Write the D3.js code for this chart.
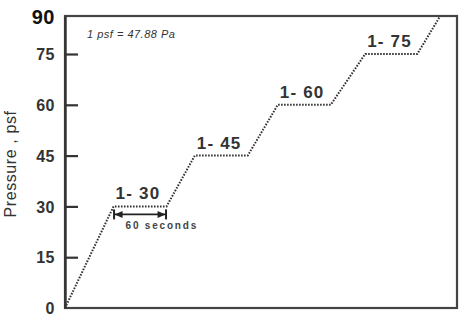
<!DOCTYPE html>
<html>
<head>
<meta charset="utf-8">
<script src="https://cdn.jsdelivr.net/npm/d3@7"></script>
<style>
  body { margin: 0; background: #fff; }
  svg { display: block; font-family: "Liberation Sans", Arial, sans-serif; }
</style>
</head>
<body>
<svg width="463" height="323"></svg>
<script>
let svg = d3.select("svg");

// time in seconds, pressure in psf
let times = [0, 55, 115, 147, 207, 241, 301, 340, 399, 425];
let pressures = [0, 30, 30, 45, 45, 60, 60, 75, 75, 90];
let stepLabels = ["1- 30", "1- 45", "1- 60", "1- 75"];
let stepStarts = [55, 147, 241, 340];
let stepLevels = [30, 45, 60, 75];
let yTicks = [0, 15, 30, 45, 60, 75, 90];

let plotLeft = 65, plotRight = 457, plotTop = 16, plotBottom = 308;
let darkColor = "#333";

let x = d3.scaleLinear().domain([0, 444]).range([plotLeft, plotRight]);
// the top of the frame is squeezed, 90 sits on the border
let y = d3.scaleLinear().domain([0, 75, 90]).range([plotBottom, 54, plotTop]);

//Arrow markers for the 60 seconds span
let defs = svg.append("defs");
["arrowEnd", "arrowStart"].forEach((id, i) => {
    let m = defs.append("marker")
        .attr("id", id)
        .attr("viewBox", "0 -6 12 12")
        .attr("refX", 11)
        .attr("refY", 0)
        .attr("markerWidth", 12)
        .attr("markerHeight", 12)
        .attr("markerUnits", "userSpaceOnUse")
        .attr("orient", i == 0 ? "auto" : "auto-start-reverse");
    m.append("path").attr("d", "M2,-3.5L10,0L2,3.5Z").attr("fill", "#222");
    m.append("rect").attr("x", 9.5).attr("y", -5).attr("width", 2).attr("height", 10).attr("fill", "#222");
});

// frame
svg.append("rect")
    .attr("x", plotLeft).attr("y", plotTop)
    .attr("width", plotRight - plotLeft).attr("height", plotBottom - plotTop)
    .attr("fill", "none")
    .attr("stroke", "#444")
    .attr("stroke-width", 2.2);

// y axis ticks pointing inside
let yAxis = d3.axisLeft(y)
    .tickValues(yTicks)
    .tickSizeInner(-13)
    .tickSizeOuter(0)
    .tickPadding(23)
    .tickFormat(d3.format("d"));

let yg = svg.append("g")
    .attr("transform", "translate(" + plotLeft + ",0)")
    .call(yAxis);
yg.select(".domain").attr("stroke", darkColor).attr("stroke-width", 2.4);
yg.selectAll(".tick line")
    .attr("stroke", darkColor)
    .attr("stroke-width", 2.2)
    .attr("display", d => (d == 0 || d == 90) ? "none" : null);
yg.selectAll(".tick text")
    .attr("fill", d => d == 90 ? "#111" : darkColor)
    .style("font-size", d => d == 90 ? "20px" : "16px")
    .style("font-weight", "bold")
    .style("letter-spacing", "0.5px")
    .attr("x", -10)
    .attr("dy", "0.36em");

// y axis title
svg.append("text")
    .attr("transform", "translate(16,164) rotate(-90)")
    .attr("text-anchor", "middle")
    .attr("fill", darkColor)
    .style("font-size", "16px")
    .style("letter-spacing", "0.6px")
    .text("Pressure , psf");

// unit note
svg.append("text")
    .attr("x", 87).attr("y", 38)
    .attr("fill", darkColor)
    .style("font-size", "11px")
    .style("font-style", "italic")
    .style("letter-spacing", "0.5px")
    .text("1 psf = 47.88 Pa");

// loading line
let line = d3.line()
    .x((d, i) => x(times[i]))
    .y(d => y(d));

svg.append("path")
    .datum(pressures)
    .attr("d", line)
    .attr("fill", "none")
    .attr("stroke", darkColor)
    .attr("stroke-width", 2)
    .attr("stroke-dasharray", "1.6,1.4");

// step labels
svg.append("g").selectAll("text")
    .data(stepLabels).enter().append("text")
        .attr("x", (d, i) => x(stepStarts[i]) + 2)
        .attr("y", (d, i) => y(stepLevels[i]) - 7)
        .attr("fill", darkColor)
        .style("font-size", "17px")
        .style("font-weight", "bold")
        .style("letter-spacing", "1.2px")
        .text(d => d);

// 60 second span
let spanY = y(30) + 8;
svg.append("line")
    .attr("x1", x(55)).attr("x2", x(115))
    .attr("y1", spanY).attr("y2", spanY)
    .attr("stroke", "#222")
    .attr("stroke-width", 1.8)
    .attr("marker-start", "url(#arrowStart)")
    .attr("marker-end", "url(#arrowEnd)");

svg.append("text")
    .attr("x", x(55) + 12).attr("y", spanY + 15)
    .attr("fill", "#444")
    .style("font-size", "10px")
    .style("font-weight", "bold")
    .style("letter-spacing", "1.8px")
    .text("60 seconds");
</script>
</body>
</html>
